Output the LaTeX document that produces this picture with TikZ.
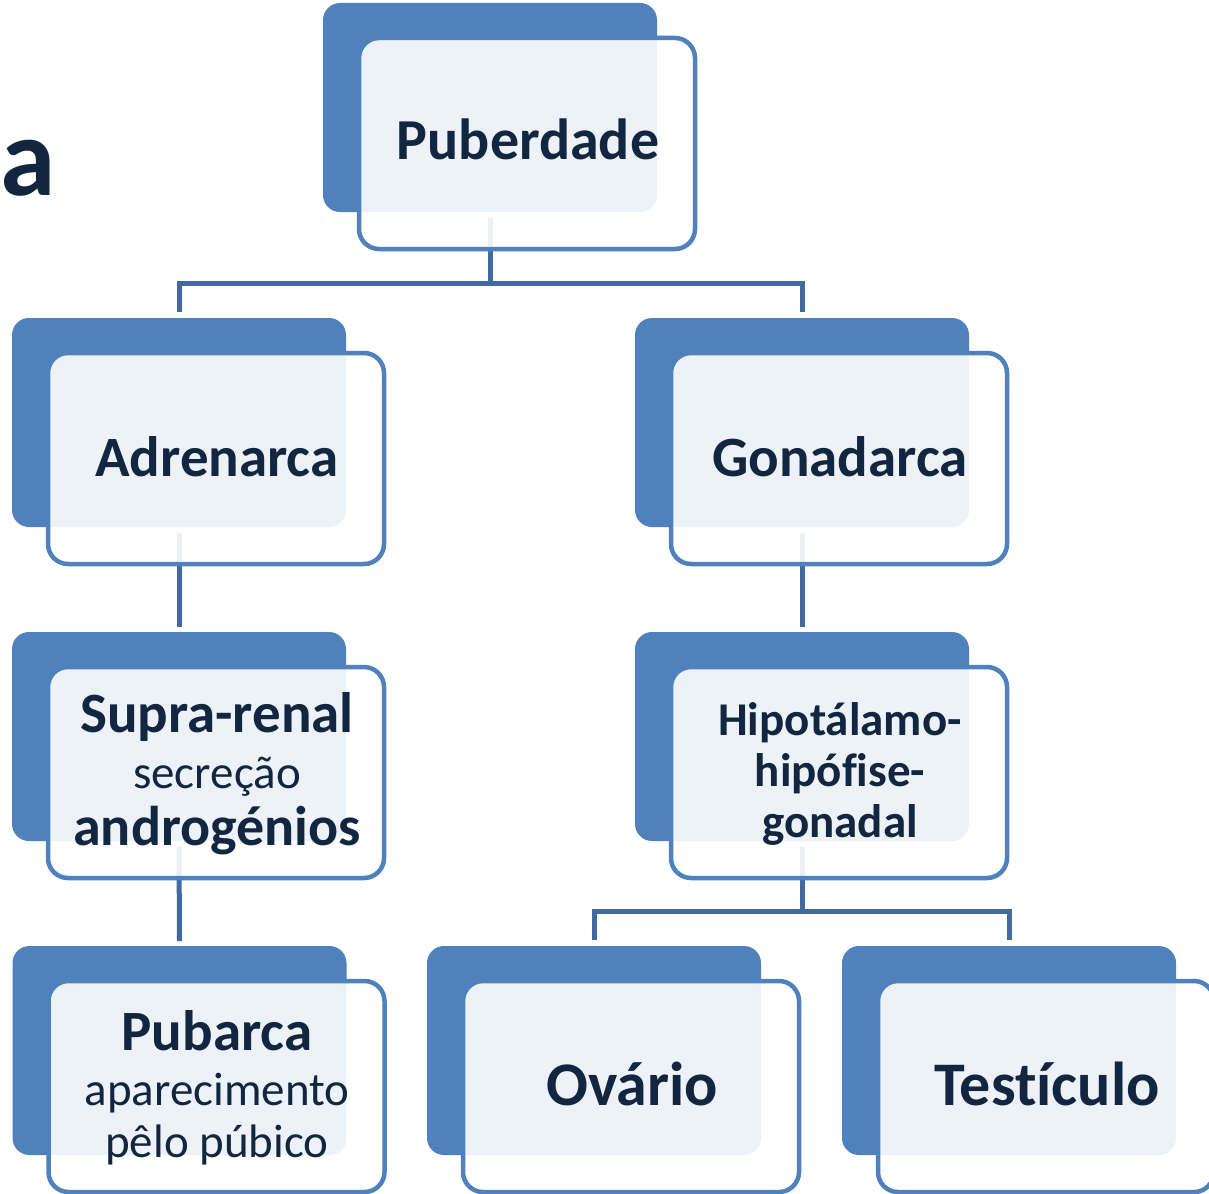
\documentclass[tikz,border=0pt]{standalone}
\usepackage{fontspec}
\setmainfont{Carlito}[Ligatures={NoCommon}]
\pgfdeclarelayer{paper}
\pgfdeclarelayer{bg}
\pgfsetlayers{paper,bg,main}
\definecolor{boxblue}{RGB}{79,129,189}
\definecolor{linkblue}{RGB}{66,106,160}
\definecolor{ink}{RGB}{18,38,64}
\newcommand\orgunit[3]{%
  \node[backbox] (#1B) at (#2,#3) {};
  \node[frontbox] (#1F) at (#2+37,#3+36) {};
}
\begin{document}
\begin{tikzpicture}[x=1pt,y=-1pt,
  backbox/.style={rectangle, rounded corners=17pt, fill=boxblue,
    minimum width=334pt, minimum height=209pt, inner sep=0pt, outer sep=0pt},
  frontbox/.style={rectangle, rounded corners=20pt, draw=boxblue, line width=4.5pt,
    fill=white, fill opacity=0.9, minimum width=336pt, minimum height=211pt,
    inner sep=0pt, outer sep=0pt},
  conn/.style={draw=linkblue, line width=5pt},
  lbl/.style={anchor=base, inner sep=0pt, text=ink},
  bold/.style={lbl, font=\fontsize{#1}{#1}\selectfont\bfseries},
  thin/.style={lbl, font=\fontsize{#1}{#1}\selectfont}]
\useasboundingbox (0,0) rectangle (1209,1193);
\begin{pgfonlayer}{paper}
  \fill[white] (0,0) rectangle (1209,1193);
\end{pgfonlayer}

\node[anchor=base west, inner sep=0pt, text=ink,
  font=\fontsize{112}{112}\selectfont\bfseries] (title) at (0,195) {a};

\orgunit{pub}{490}{107.5}
\orgunit{adr}{179}{422.5}
\orgunit{gon}{802}{422.5}
\orgunit{sup}{179}{736.5}
\orgunit{hip}{802}{736.5}
\orgunit{pbc}{179.5}{1050.5}
\orgunit{ova}{594}{1050.5}
\orgunit{tes}{1009}{1050.5}

\node[bold=58] (pubT) at (528,160) {Puberdade};
\node[bold=57] (adrT) at (217,476) {Adrenarca};
\node[bold=57] (gonT) at (840,476) {Gonadarca};
\node[bold=57] (supT1) at (217,732) {Supra-renal};
\node[thin=47] (supT2) at (217,788) {secreção};
\node[bold=56] (supT3) at (217,845) {androgénios};
\node[bold=47] (hipT1) at (840,735) {Hipotálamo-};
\node[bold=47] (hipT2) at (840,786) {hipófise-};
\node[bold=47] (hipT3) at (840,837) {gonadal};
\node[bold=57] (pbcT1) at (217,1050) {Pubarca};
\node[thin=47] (pbcT2) at (217,1105) {aparecimento};
\node[thin=47] (pbcT3) at (217,1157) {pêlo púbico};
\node[bold=62] (ovaT) at (632,1105) {Ovário};
\node[bold=62] (tesT) at (1047,1105) {Testículo};

\begin{pgfonlayer}{bg}
  \coordinate (j1) at (490,283);
  \coordinate (j2) at (802,911);
  \draw[conn] ([yshift=-6pt]pubB.south) -- (j1);
  \draw[conn] ([yshift=6pt]adrB.north) |- (j1) -| ([yshift=6pt]gonB.north);
  \draw[conn] ([yshift=-6pt]adrB.south) -- ([yshift=5pt]supB.north);
  \draw[conn] ([yshift=-6pt]supB.south) -- ([yshift=5pt]pbcB.north);
  \draw[conn] ([yshift=-6pt]gonB.south) -- ([yshift=5pt]hipB.north);
  \draw[conn] ([yshift=-6pt]hipB.south) -- (j2);
  \draw[conn] ([yshift=6pt]ovaB.north) |- (j2) -| ([yshift=6pt]tesB.north);
\end{pgfonlayer}
\end{tikzpicture}
\end{document}
